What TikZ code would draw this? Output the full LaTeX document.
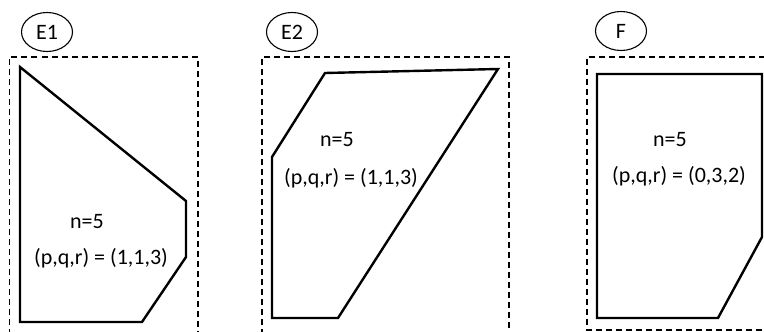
\documentclass[tikz,border=0pt]{standalone}
\usepackage{fontspec}
\setmainfont{Carlito}
\usepackage{tikz}
\usetikzlibrary{shapes.geometric}

\begin{document}
\begin{tikzpicture}[x=1pt, y=-1pt,
    tag/.style={ellipse, draw, line width=1.1pt, minimum width=51pt, minimum height=39pt, inner sep=0pt},
    frame/.style={line width=1.3pt, dash pattern=on 6pt off 4pt},
    poly/.style={line width=2.4pt, line join=miter},
    lab/.style={inner sep=0pt}]
  \useasboundingbox (0,0) rectangle (764,332);
  \clip (0,0) rectangle (764,332);
  \fontsize{22}{26}\selectfont
  % E1
  \node[tag] (e1) at (47,32) {E1};
  \draw[frame] (9.5,345) -- (9.5,57) -- (198,57) -- (198,345);
  \draw[poly] (20,67) -- (186,201) -- (186,257) -- (142,322) -- (20,322) -- cycle;
  \node[lab] (e1n) at (87,222) {n=5};
  \node[lab] (e1t) at (101,258) {(p,q,r) = (1,1,3)};
  % E2
  \node[tag] (e2) at (292,32) {E2};
  \draw[frame] (262,345) -- (262,57) -- (509,57) -- (509,345);
  \draw[poly] (325,73) -- (498,69) -- (338,318) -- (272,318) -- (272,157) -- cycle;
  \node[lab] (e2n) at (337,140) {n=5};
  \node[lab] (e2t) at (351,178) {(p,q,r) = (1,1,3)};
  % F
  \node[tag] (f) at (621,31) {F};
  \draw[frame] (775,57) -- (587,57) -- (587,330) -- (775,330);
  \draw[poly] (597,74) -- (762,74) -- (762,237) -- (718,318) -- (597,318) -- cycle;
  \node[lab] (fn) at (670,140) {n=5};
  \node[lab] (ft) at (679,176) {(p,q,r) = (0,3,2)};
\end{tikzpicture}
\end{document}
